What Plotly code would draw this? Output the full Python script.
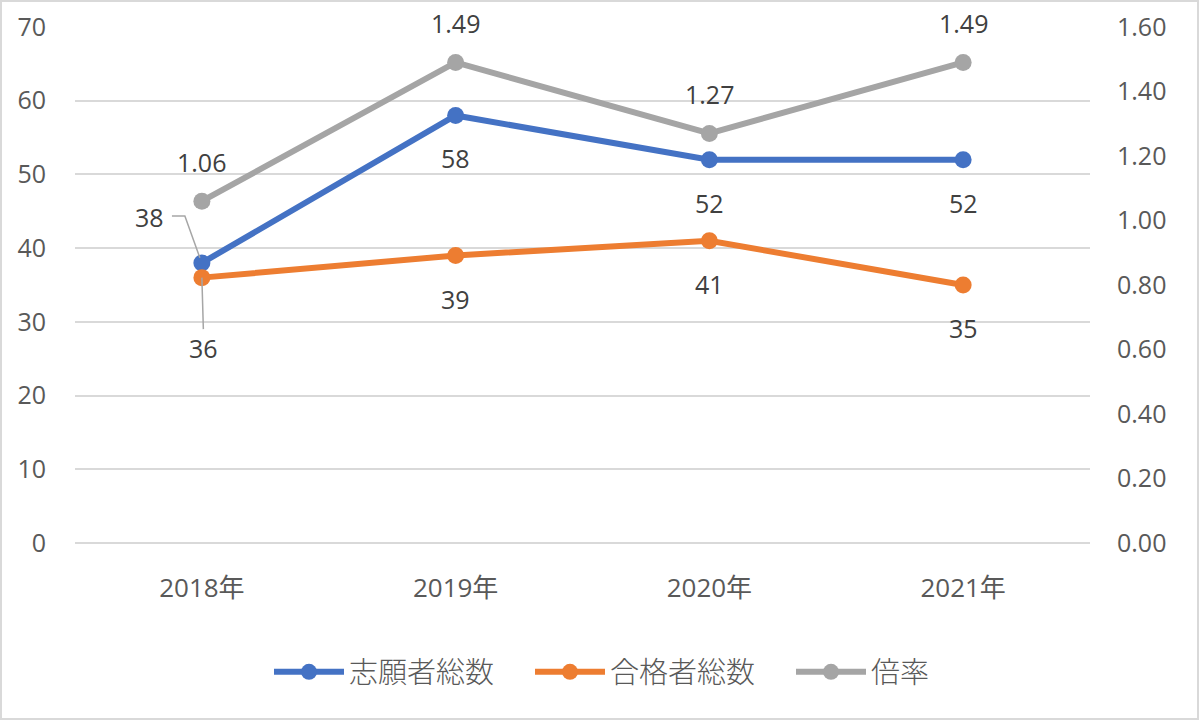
import plotly.graph_objects as go

categories = ["2018年", "2019年", "2020年", "2021年"]
applicants = [38, 58, 52, 52]
passed = [36, 39, 41, 35]
ratio = [1.06, 1.49, 1.27, 1.49]

BLUE = "#4472C4"
ORANGE = "#ED7D31"
GRAY = "#A5A5A5"
TXT = "#595959"
NUMFONT = "Open Sans, Noto Sans CJK JP"
CJK = "Noto Sans CJK JP"

fig = go.Figure()
fig.add_trace(go.Scatter(x=categories, y=applicants, name="志願者総数", mode="lines+markers",
                         line=dict(color=BLUE, width=6), marker=dict(size=17, color=BLUE)))
fig.add_trace(go.Scatter(x=categories, y=passed, name="合格者総数", mode="lines+markers",
                         line=dict(color=ORANGE, width=6), marker=dict(size=17, color=ORANGE)))
fig.add_trace(go.Scatter(x=categories, y=ratio, name="倍率", mode="lines+markers", yaxis="y2",
                         line=dict(color=GRAY, width=6), marker=dict(size=17, color=GRAY)))

ann = []
lab_font = dict(family=NUMFONT, size=25, color="#404040")
for i, c in enumerate(categories):
    ann.append(dict(x=c, y=ratio[i], yref="y2", text=f"{ratio[i]:.2f}", showarrow=False,
                    yshift=39, font=lab_font))
    if i == 0:
        ann.append(dict(x=i, y=applicants[i], yref="y", text=str(applicants[i]), showarrow=False,
                        xshift=-52, yshift=46, font=lab_font))
        ann.append(dict(x=c, y=passed[i], yref="y", text=str(passed[i]), showarrow=True,
                        ax=2, ay=70, arrowhead=0, arrowwidth=1.5, arrowcolor="#A6A6A6",
                        standoff=0, font=lab_font))
    else:
        ann.append(dict(x=c, y=applicants[i], yref="y", text=str(applicants[i]), showarrow=False,
                        yshift=-43, font=lab_font))
        ann.append(dict(x=c, y=passed[i], yref="y", text=str(passed[i]), showarrow=False,
                        yshift=-43, font=lab_font))

# bent leader line for the first applicants label
lx = 0
ly = applicants[0]
leader = dict(type="path", xref="x", yref="y",
              path=f"M {lx-0.118},{ly+6.36} L {lx-0.067},{ly+6.36} L {lx-0.008},{ly+0.7}",
              line=dict(color="#A6A6A6", width=1.5))

fig.update_layout(
    width=1200, height=721,
    margin=dict(l=75, r=110, t=27, b=178, autoexpand=False),
    paper_bgcolor="white", plot_bgcolor="white",
    font=dict(family=NUMFONT, size=25, color=TXT),
    showlegend=True,
    legend=dict(orientation="h", x=(277 - 75 - 8) / 1015, xanchor="left", y=-0.25, yanchor="middle",
                font=dict(family=CJK, size=29, color=TXT, weight=300), itemwidth=70,
                entrywidth=176, entrywidthmode="pixels"),
    xaxis=dict(range=[-0.5, 3.5], showgrid=False, showline=False, zeroline=False, automargin=False,
               ticks="", ticklabelstandoff=27,
               tickfont=dict(family=NUMFONT, size=26, color=TXT)),
    yaxis=dict(range=[0, 70], dtick=10, showgrid=True, gridcolor="#D9D9D9", gridwidth=1.5,
               zeroline=True, zerolinecolor="#D9D9D9", zerolinewidth=1.5, automargin=False,
               showline=False, ticks="", ticklabelstandoff=28,
               tickfont=dict(family=NUMFONT, size=25, color=TXT)),
    yaxis2=dict(range=[0, 1.6], dtick=0.2, tickformat=".2f", overlaying="y", side="right",
                showgrid=False, zeroline=False, showline=False, ticks="", ticklabelstandoff=26,
                automargin=False, tickfont=dict(family=NUMFONT, size=25, color=TXT)),
    annotations=ann,
    shapes=[leader,
            dict(type="rect", xref="paper", yref="paper",
                 x0=-74 / 1015, x1=1 + 108 / 1015, y0=-176 / 516, y1=1 + 26 / 516,
                 line=dict(color="#D9D9D9", width=2), fillcolor="rgba(0,0,0,0)")],
)

fig.write_html("out.html", config={"displayModeBar": False},
               post_script="document.body.style.margin='0';document.body.style.overflow='hidden';")
